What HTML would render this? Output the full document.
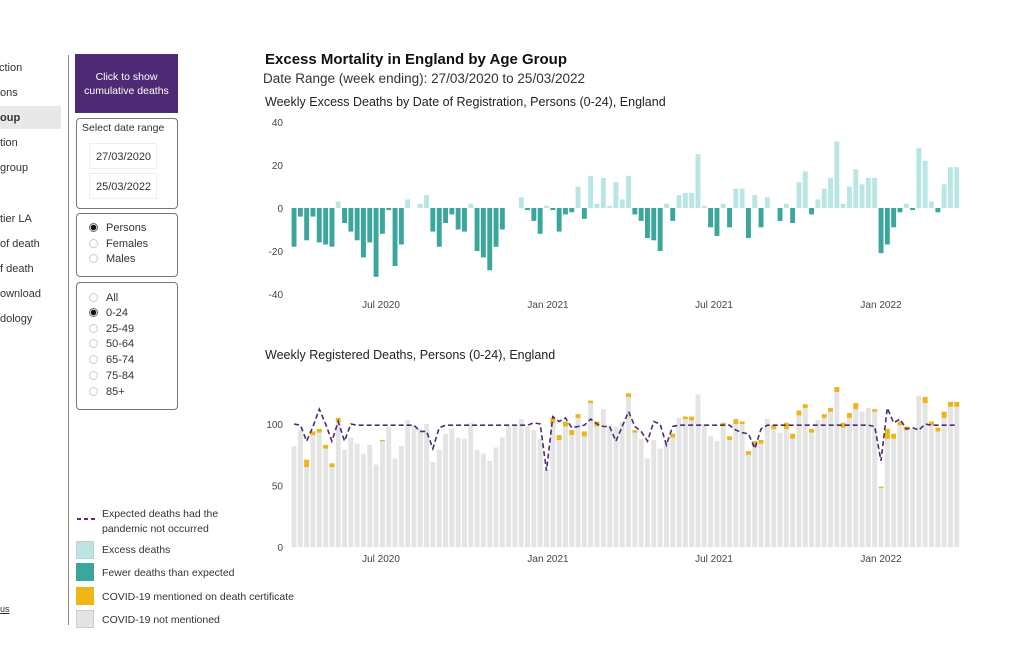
<!DOCTYPE html>
<html><head><meta charset="utf-8"><style>
body{margin:0;width:1024px;height:655px;background:#fff;font-family:"Liberation Sans",Arial,sans-serif;color:#333;position:relative;overflow:hidden}
.a{position:absolute;white-space:nowrap}
.nav{font-size:11px;color:#333;left:0}
.box{position:absolute;border:1px solid #777;border-radius:4px;background:#fff}
.rad{position:absolute;font-size:11px;color:#333}
.rad i{display:inline-block;width:9px;height:9px;border:1px solid #ccc;border-radius:50%;margin-right:8px;vertical-align:-1px;box-sizing:border-box}
.rad i.on{border:1px solid #666;background:radial-gradient(circle,#111 0 2.5px,#fff 3px)}
.lg{position:absolute;font-size:10.5px;color:#333;left:102px}
.sw{position:absolute;left:76px;width:18px;height:18px}
</style></head><body>
<div class="a nav" style="top:62px;left:-1px">ction</div>
<div class="a nav" style="top:87px">ons</div>
<div class="a" style="left:0;top:106px;width:61px;height:23px;background:#e8e8e8"></div>
<div class="a nav" style="top:112px;font-weight:bold">oup</div>
<div class="a nav" style="top:137px">tion</div>
<div class="a nav" style="top:162px">group</div>
<div class="a nav" style="top:213px">tier LA</div>
<div class="a nav" style="top:238px">of death</div>
<div class="a nav" style="top:263px">f death</div>
<div class="a nav" style="top:288px">ownload</div>
<div class="a nav" style="top:313px">dology</div>
<div class="a nav" style="top:604px;font-size:9px;text-decoration:underline">us</div>
<div class="a" style="left:68px;top:55px;width:1px;height:570px;background:#888"></div>
<div class="a" style="left:75px;top:54px;width:103px;height:59px;background:#4e2a75;color:#fff;font-size:10.5px;text-align:center;line-height:14px;box-sizing:border-box;padding-top:16px">Click to show<br>cumulative deaths</div>
<div class="box" style="left:76px;top:118px;width:100px;height:89px"></div>
<div class="a" style="left:82px;top:122px;font-size:10.5px">Select date range</div>
<div class="a" style="left:89px;top:143px;width:68px;height:26px;border:1px solid #eee;font-size:11px;line-height:26px;padding-left:6px;box-sizing:border-box;overflow:hidden">27/03/2020</div>
<div class="a" style="left:89px;top:173px;width:68px;height:26px;border:1px solid #eee;font-size:11px;line-height:26px;padding-left:6px;box-sizing:border-box;overflow:hidden">25/03/2022</div>
<div class="box" style="left:76px;top:213px;width:100px;height:62px"></div>
<div class="rad" style="left:89px;top:222px"><i class="on"></i>Persons</div>
<div class="rad" style="left:89px;top:238px"><i></i>Females</div>
<div class="rad" style="left:89px;top:253px"><i></i>Males</div>
<div class="box" style="left:76px;top:282px;width:100px;height:126px"></div>
<div class="rad" style="left:89px;top:292px"><i></i>All</div>
<div class="rad" style="left:89px;top:307px"><i class="on"></i>0-24</div>
<div class="rad" style="left:89px;top:323px"><i></i>25-49</div>
<div class="rad" style="left:89px;top:338px"><i></i>50-64</div>
<div class="rad" style="left:89px;top:354px"><i></i>65-74</div>
<div class="rad" style="left:89px;top:370px"><i></i>75-84</div>
<div class="rad" style="left:89px;top:386px"><i></i>85+</div>
<svg class="a" style="left:76px;top:514px" width="20" height="10"><line x1="1" y1="5" x2="19" y2="5" stroke="#5b2d82" stroke-width="2" stroke-dasharray="4,3"/></svg>
<div class="lg" style="top:507px;line-height:15px">Expected deaths had the<br>pandemic not occurred</div>
<div class="sw" style="top:541px;background:#b9e6e4;border:1px solid #ccc;box-sizing:border-box"></div><div class="lg" style="top:544px">Excess deaths</div>
<div class="sw" style="top:563px;background:#3aa69c"></div><div class="lg" style="top:567px">Fewer deaths than expected</div>
<div class="sw" style="top:587px;background:#efb416"></div><div class="lg" style="top:591px">COVID-19 mentioned on death certificate</div>
<div class="sw" style="top:610px;background:#e4e4e4;border:1px solid #ccc;box-sizing:border-box"></div><div class="lg" style="top:614px">COVID-19 not mentioned</div>
<div class="a" style="left:265px;top:51px;font-size:15px;font-weight:bold;color:#111">Excess Mortality in England by Age Group</div>
<div class="a" style="left:263px;top:71px;font-size:13.5px;color:#333">Date Range (week ending): 27/03/2020 to 25/03/2022</div>
<div class="a" style="left:265px;top:95px;font-size:12.5px;color:#222">Weekly Excess Deaths by Date of Registration, Persons (0-24), England</div>
<div class="a" style="left:265px;top:348px;font-size:12.5px;color:#222">Weekly Registered Deaths, Persons (0-24), England</div>
<svg id="s" class="a" style="left:0;top:0" width="1024" height="655" font-family="Liberation Sans, Arial, sans-serif"></svg>
<script>
var ex=[-18,-4,-15,-4,-16,-17,-18,3,-7,-11,-15,-23,-16,-32,-12,-1,-27,-17,4,0,2,6,-11,-18,-7,-3,-10,-11,2,-20,-23,-29,-18,-10,0,0,5,-1,-6,-12,1,-1,-11,-3,-2,10,-5,15,2,14,1,12,4,15,-3,-6,-14,-15,-20,2,-6,6,7,7,25,1,-9,-13,2,-9,9,9,-14,6,-9,5,0,-6,2,-7,12,17,-3,4,9,14,31,2,10,18,11,14,14,-21,-17,-9,-2,2,-1,28,22,3,-2,11,19,19];
var n=ex.length,x0=291,x1=960,w=(x1-x0)/n;
var expd=[];for(var i=0;i<n;i++)expd.push(99);
var ov={0:100,1:99,2:86,3:98,4:112,5:100,6:86,7:102,8:86,9:100,20:94,21:94,22:80,23:97,38:101,39:100,40:62,41:106,42:102,43:105,44:97,45:98,47:104,48:100,49:98,50:98,51:86,52:98,53:110,54:98,55:94,56:86,57:102,58:100,59:83,60:98,70:95,71:93,72:92,73:80,74:96,92:98,93:70,94:113,95:101,96:104,97:96,98:97,99:95,100:100};
for(var k in ov)expd[k]=ov[k];
var cov={2:6,3:3,4:3,5:3,6:3,7:3,14:1,40:0,41:4,42:4,43:4,44:4,45:3,46:4,47:2,48:4,53:3,54:2,60:3,62:2,63:3,68:2,69:3,70:4,71:2,72:3,73:4,74:3,76:3,78:5,79:4,80:4,81:3,82:3,84:3,85:3,86:4,87:4,88:4,89:5,92:2,93:1,94:8,95:4,96:3,97:3,100:5,101:3,102:3,103:5,104:4,105:4};
var h='';
function yt(v){return 208-v*2.15}
function yb(v){return 547-v*1.23}
[[40,'40'],[20,'20'],[0,'0'],[-20,'-20'],[-40,'-40']].forEach(function(t){h+='<text x="283" y="'+(yt(t[0])+4)+'" font-size="10" fill="#444" text-anchor="end">'+t[1]+'</text>'});
[[100,'100'],[50,'50'],[0,'0']].forEach(function(t){h+='<text x="283" y="'+(yb(t[0])+4)+'" font-size="10" fill="#444" text-anchor="end">'+t[1]+'</text>'});
var pts=[];
for(var i=0;i<n;i++){var v=ex[i],x=x0+i*w+0.6,bw=w-1.4;
 if(v!=0)h+='<rect x="'+x.toFixed(1)+'" y="'+Math.min(yt(v),208).toFixed(1)+'" width="'+bw.toFixed(1)+'" height="'+Math.abs(v*2.15).toFixed(1)+'" fill="'+(v>0?'#b9e6e4':'#3aa69c')+'"/>';
 var tot=expd[i]+v,c=cov[i]||0;
 h+='<rect x="'+x.toFixed(1)+'" y="'+yb(tot).toFixed(1)+'" width="'+bw.toFixed(1)+'" height="'+(tot*1.23).toFixed(1)+'" fill="#e4e4e4"/>';
 if(c)h+='<rect x="'+x.toFixed(1)+'" y="'+yb(tot).toFixed(1)+'" width="'+bw.toFixed(1)+'" height="'+(c*1.23).toFixed(1)+'" fill="#efb416"/>';
 pts.push((x+bw/2).toFixed(1)+','+yb(expd[i]).toFixed(1));}
h+='<polyline points="'+pts.join(' ')+'" fill="none" stroke="#4e2a75" stroke-width="1.6" stroke-dasharray="5,3"/>';
[['Jul 2020',381],['Jan 2021',548],['Jul 2021',714],['Jan 2022',881]].forEach(function(t){
 h+='<text x="'+t[1]+'" y="308" font-size="10" fill="#444" text-anchor="middle">'+t[0]+'</text>';
 h+='<text x="'+t[1]+'" y="562" font-size="10" fill="#444" text-anchor="middle">'+t[0]+'</text>';});
document.getElementById('s').innerHTML=h;
</script>
</body></html>
